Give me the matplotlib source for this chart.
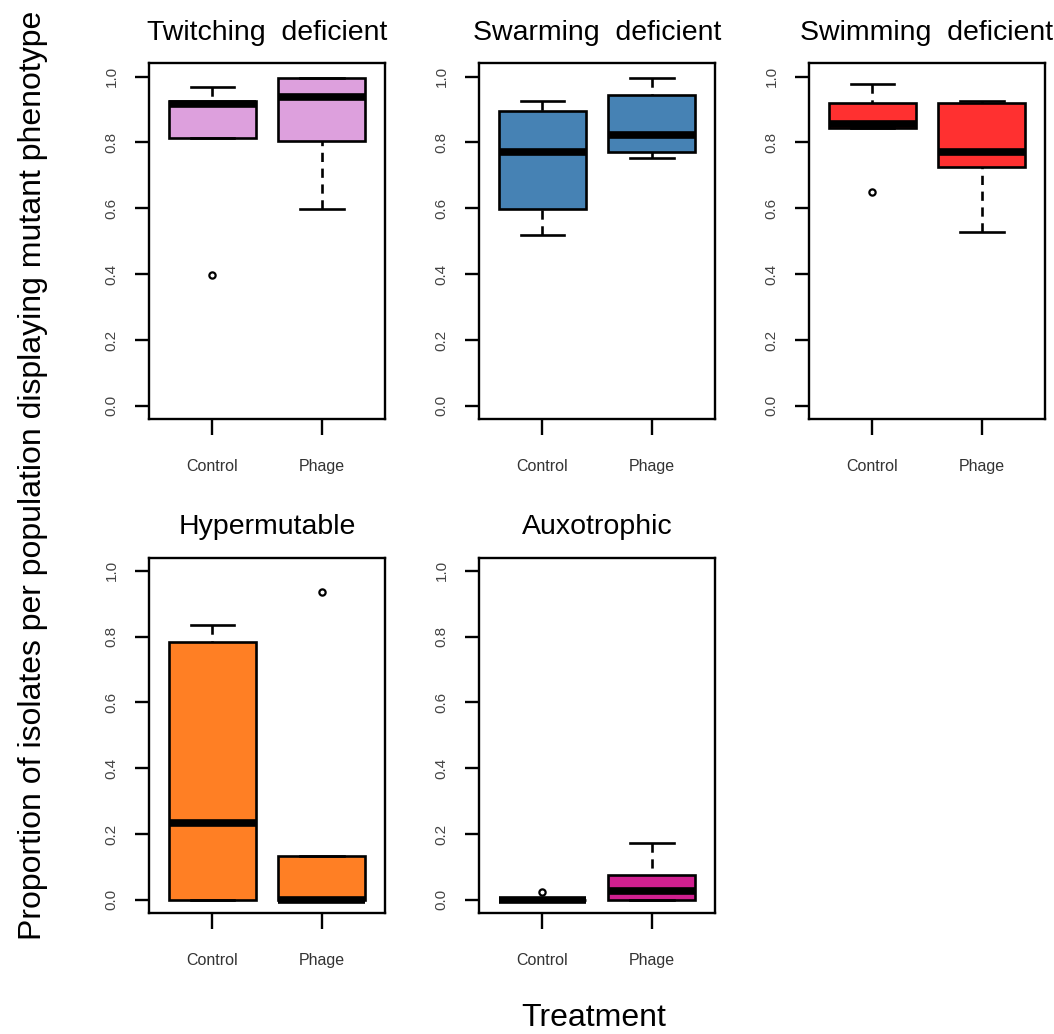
import matplotlib
matplotlib.use("Agg")
import matplotlib.pyplot as plt

plt.rcParams['font.family'] = ['Liberation Sans', 'DejaVu Sans']

# data
panels = ["Twitching  deficient", "Swarming  deficient", "Swimming  deficient",
          "Hypermutable", "Auxotrophic"]
groups = ["Control", "Phage"]
colors = ["#DDA0DD", "#4682B4", "#FF3030", "#FF7F24", "#D02090"]
whislo = [[0.813, 0.598], [0.518, 0.753], [0.845, 0.527], [0.0, 0.0], [0.0, 0.0]]
q1 = [[0.813, 0.803], [0.598, 0.770], [0.845, 0.726], [0.0, 0.0], [0.0, 0.0]]
med = [[0.918, 0.938], [0.772, 0.823], [0.857, 0.771], [0.235, 0.0], [0.0, 0.028]]
q3 = [[0.925, 0.996], [0.895, 0.945], [0.921, 0.921], [0.783, 0.132], [0.0, 0.074]]
whishi = [[0.969, 0.996], [0.926, 0.996], [0.979, 0.927], [0.835, 0.132], [0.0, 0.174]]
fliers = [[[0.397], []], [[], []], [[0.649], []], [[], [0.934]], [[0.023], []]]

yticks = [0.0, 0.2, 0.4, 0.6, 0.8, 1.0]

fig = plt.figure(figsize=(10.54, 10.34), dpi=100)
lefts = [0.1414, 0.4545, 0.7676]
bottoms = [0.5948, 0.1170]
w, h = 0.2239, 0.3438

for i, name in enumerate(panels):
    r, c = divmod(i, 3)
    ax = fig.add_axes([lefts[c], bottoms[r], w, h])
    stats = []
    for j, g in enumerate(groups):
        stats.append(dict(label=g, whislo=whislo[i][j], q1=q1[i][j], med=med[i][j],
                          q3=q3[i][j], whishi=whishi[i][j], fliers=fliers[i][j]))
    bp = ax.bxp(stats, positions=[1, 2], widths=0.8, capwidths=0.4,
                patch_artist=True,
                boxprops=dict(facecolor=colors[i], edgecolor='black', linewidth=1.9),
                medianprops=dict(color='black', linewidth=5.5, solid_capstyle='butt'),
                whiskerprops=dict(color='black', linewidth=1.9, linestyle=(0, (3.5, 2.5))),
                capprops=dict(color='black', linewidth=1.9),
                flierprops=dict(marker='o', markerfacecolor='none', markeredgecolor='black',
                                markersize=4.5, markeredgewidth=1.6))
    # R draws whiskers from the end towards the box
    for line in bp['whiskers']:
        line.set_ydata(line.get_ydata()[::-1])
    ax.set_xlim(0.42, 2.58)
    ax.set_ylim(-0.04, 1.04)
    ax.set_yticks(yticks)
    ax.set_yticklabels(["%.1f" % t for t in yticks], rotation=90, va='center',
                       fontsize=11, color='#444444')
    ax.set_xticks([1, 2])
    ax.set_xticklabels(groups, fontsize=11.5, color='#333333')
    ax.tick_params(axis='y', length=10, width=1.7, pad=12)
    ax.tick_params(axis='x', length=11.5, width=1.7, pad=17)
    for s in ax.spines.values():
        s.set_linewidth(1.7)
    ax.set_title(name, fontsize=20.5, pad=17)

fig.text(0.031, 1 - 475 / 1034, "Proportion of isolates per population displaying mutant phenotype",
         rotation=90, ha='center', va='center', fontsize=23)
fig.text(594 / 1054, 1 - 1018 / 1034, "Treatment", ha='center', va='center', fontsize=23)

fig.savefig("out.png", dpi=100)
